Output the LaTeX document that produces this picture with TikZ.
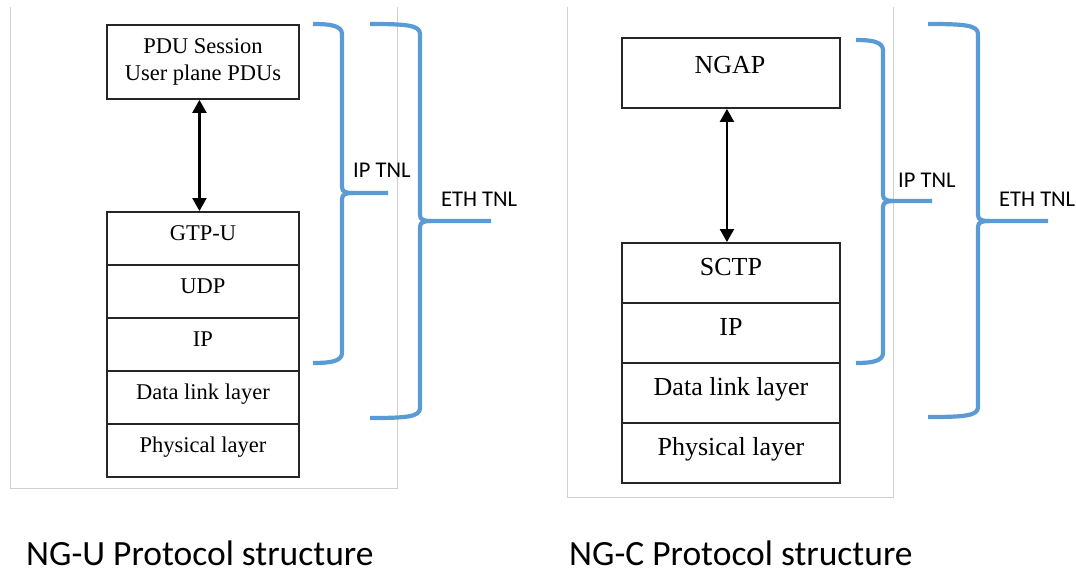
\documentclass[tikz,border=0pt]{standalone}
\usepackage{fontspec}
\setmainfont{Liberation Serif}
\newfontfamily\calibrifont{Carlito}
\usetikzlibrary{arrows.meta}
\definecolor{braceblue}{HTML}{5B9BD5}
\definecolor{framegrey}{HTML}{D0D0D0}
\definecolor{boxline}{HTML}{262626}

% right curly brace: #1 arm end x, #2 spine x, #3 top y, #4 tip y, #5 bottom y, #6 tip end x
\newcommand\tnlbrace[6]{%
  \draw[bracestyle] (#1,#3) .. controls ({#2-14},#3) and (#2,{#3+1}) .. (#2,{#3+10})
    -- (#2,{#4-6}) .. controls (#2,{#4-1}) and ({#2+4},#4) .. ({#2+11},#4) -- (#6,#4);
  \draw[bracestyle] ({#2+11},#4) .. controls ({#2+4},#4) and (#2,{#4+1}) .. (#2,{#4+6})
    -- (#2,{#5-10}) .. controls (#2,{#5-1}) and ({#2-14},#5) .. (#1,#5);
}

\begin{document}
\begin{tikzpicture}[x=1pt,y=-1pt,
  layerbox/.style={draw=boxline, line width=1.9pt, rectangle, inner sep=0pt,
    anchor=north west, text height=0.68em, text depth=0.22em, align=center},
  leftlayer/.style={layerbox, minimum width=192pt, minimum height=53pt,
    font=\fontsize{22.5}{27}\selectfont},
  rightlayer/.style={layerbox, minimum width=218pt, minimum height=60pt,
    font=\fontsize{26}{31}\selectfont},
  framestyle/.style={draw=framegrey, line width=1pt},
  bracestyle/.style={draw=braceblue, line width=4.2pt},
  tnl/.style={anchor=base west, inner sep=0pt, font=\calibrifont\fontsize{22.5}{27}\selectfont},
  caption/.style={anchor=base west, inner sep=0pt, font=\calibrifont\fontsize{35.5}{42}\selectfont},
  biarrow/.style={line width=2.3pt, {Triangle[length=13pt,width=14pt]}-{Triangle[length=13pt,width=14pt]}}
]
\useasboundingbox (0,0) rectangle (1076,573);

% ---------- NG-U ----------
\draw[framestyle] (10,7) -- (10,488) -- (397,488) -- (397,7);

\node[layerbox, minimum width=192pt, minimum height=74pt, text height=, text depth=,
  font=\fontsize{22.5}{27}\selectfont] (pdu) at (106,24) {PDU Session\\User plane PDUs};
\node[leftlayer] (gtpu) at (106,211) {GTP-U};
\node[leftlayer] (udp)  at (106,264) {UDP};
\node[leftlayer] (ipu)  at (106,317) {IP};
\node[leftlayer] (dlu)  at (106,370) {Data link layer};
\node[leftlayer] (phyu) at (106,423) {Physical layer};

\draw[biarrow] ([xshift=-3.5pt]pdu.south) -- ([xshift=-3.5pt]gtpu.north);

\tnlbrace{313}{342}{24}{193}{363}{388}
\tnlbrace{370}{420}{24}{221}{418}{491}
\node[tnl] (iptnlu) at (353,177) {IP TNL};
\node[tnl] (ethtnlu) at (441,206) {ETH TNL};

\node[caption] (capu) at (26,565) {NG-U Protocol structure};

% ---------- NG-C ----------
\draw[framestyle] (567,7) -- (567,497) -- (893,497) -- (893,7);

\node[layerbox, minimum width=218pt, minimum height=70pt] (ngapbox) at (621,37) {};
\node[anchor=base, inner sep=0pt, font=\fontsize{26}{31}\selectfont] (ngap) at (730,73) {NGAP};
\node[rightlayer] (sctp) at (621,242) {SCTP};
\node[rightlayer] (ipc)  at (621,302) {IP};
\node[rightlayer] (dlc)  at (621,362) {Data link layer};
\node[rightlayer] (phyc) at (621,422) {Physical layer};

\draw[biarrow] ([xshift=-4pt]ngapbox.south) -- ([xshift=-4pt]sctp.north);

\tnlbrace{856}{883}{40}{201}{363}{932}
\tnlbrace{928}{978}{24}{221}{417}{1048}
\node[tnl] (iptnlc) at (898,187) {IP TNL};
\node[tnl] (ethtnlc) at (999,206) {ETH TNL};

\node[caption] (capc) at (569,565) {NG-C Protocol structure};
\end{tikzpicture}
\end{document}
